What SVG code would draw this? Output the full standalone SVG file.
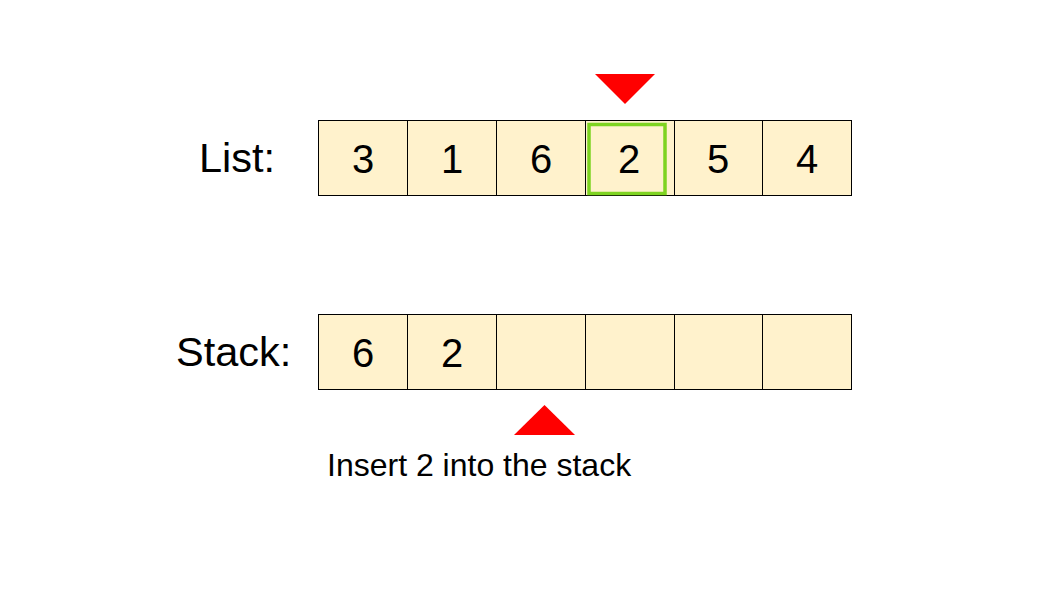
<svg xmlns="http://www.w3.org/2000/svg" width="1058" height="595" viewBox="0 0 1058 595">
<style>
.cell{fill:#fff2cc;stroke:#000;stroke-width:1}
.num{font-family:"Liberation Sans",Arial,sans-serif;font-size:40px;fill:#000;text-anchor:middle}
.lbl{font-family:"Liberation Sans",Arial,sans-serif;font-size:41.5px;fill:#000}
.cap{font-family:"Liberation Sans",Arial,sans-serif;font-size:32px;fill:#000}
.tri{fill:#ff0000}
</style>
<rect width="1058" height="595" fill="#fff"/>
<g id="list-label"><text class="lbl" x="199" y="172">List:</text></g>
<g id="stack-label"><text class="lbl" x="176" y="366">Stack:</text></g>
<g id="list">
<g id="l0"><rect class="cell" x="318.5" y="120.5" width="89" height="75"/><text class="num" x="363" y="173">3</text></g>
<g id="l1"><rect class="cell" x="407.5" y="120.5" width="89" height="75"/><text class="num" x="452" y="173">1</text></g>
<g id="l2"><rect class="cell" x="496.5" y="120.5" width="89" height="75"/><text class="num" x="541" y="173">6</text></g>
<g id="l3"><rect class="cell" x="585.5" y="120.5" width="89" height="75"/><rect x="589" y="124.5" width="76" height="69" fill="none" stroke="#7ed321" stroke-width="3.5"/><text class="num" x="629" y="173">2</text></g>
<g id="l4"><rect class="cell" x="674.5" y="120.5" width="88" height="75"/><text class="num" x="718" y="173">5</text></g>
<g id="l5"><rect class="cell" x="762.5" y="120.5" width="89" height="75"/><text class="num" x="807" y="173">4</text></g>
</g>
<g id="stack">
<g id="s0"><rect class="cell" x="318.5" y="314.5" width="89" height="75"/><text class="num" x="363" y="367">6</text></g>
<g id="s1"><rect class="cell" x="407.5" y="314.5" width="89" height="75"/><text class="num" x="452" y="367">2</text></g>
<g id="s2"><rect class="cell" x="496.5" y="314.5" width="89" height="75"/></g>
<g id="s3"><rect class="cell" x="585.5" y="314.5" width="89" height="75"/></g>
<g id="s4"><rect class="cell" x="674.5" y="314.5" width="88" height="75"/></g>
<g id="s5"><rect class="cell" x="762.5" y="314.5" width="89" height="75"/></g>
</g>
<g id="pointer-list"><polygon class="tri" points="595,74 655,74 625,104"/></g>
<g id="pointer-stack"><polygon class="tri" points="514,435 575,435 544.5,405"/></g>
<g id="caption"><text class="cap" x="327" y="476">Insert 2 into the stack</text></g>
</svg>
